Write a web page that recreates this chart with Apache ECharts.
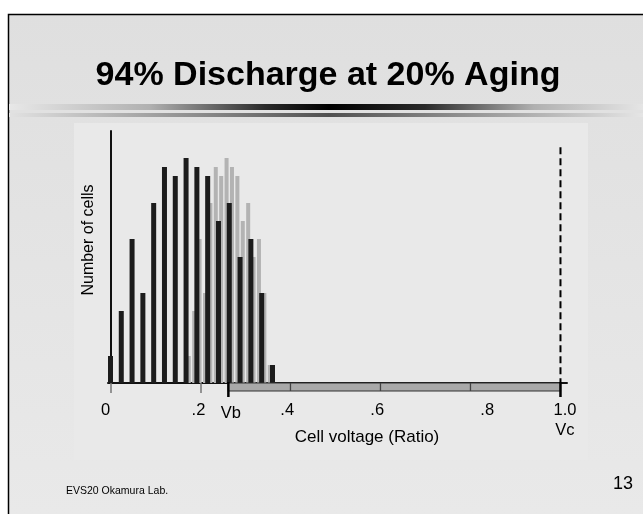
<!DOCTYPE html>
<html><head><meta charset="utf-8">
<script src="https://cdn.jsdelivr.net/npm/echarts@6/dist/echarts.min.js"></script>
<style>html,body{margin:0;padding:0;background:#fff}#c{width:643px;height:514px}</style>
</head><body><div id="c"></div>
<script>
// ---- texts ----
const titleText = '94% Discharge at 20% Aging';
const yAxisName = 'Number of cells';
const xAxisName = 'Cell voltage (Ratio)';
const footerLeft = 'EVS20 Okamura Lab.';
const pageNumber = '13';

// ---- data ----
// black bars: cell voltage ratio and cell counts
const agedVoltage = [0, 0.024, 0.048, 0.072, 0.096, 0.120, 0.144, 0.168, 0.192, 0.216, 0.240, 0.264, 0.288, 0.312, 0.336, 0.360];
const agedCount   = [3, 8, 16, 10, 20, 24, 23, 25, 24, 23, 18, 20, 14, 16, 10, 2];
// grey bars
const refVoltage  = [0.174, 0.186, 0.198, 0.210, 0.222, 0.234, 0.246, 0.258, 0.270, 0.282, 0.294, 0.306, 0.318, 0.330, 0.342, 0.354];
const refCount    = [3, 8, 16, 10, 20, 24, 23, 25, 24, 23, 18, 20, 14, 16, 10, 2];
// voltage range band Vb..Vc
const VB = 0.262;
const VC = 1.0;
const bandDividers = [0.4, 0.6, 0.8];
const vcLineTop = 26.2;
// tick labels
const xTickValues = [0, 0.2, VB, 0.4, 0.6, 0.8, VC];
const xTickLabels = ['0', '.2', 'Vb', '.4', '.6', '.8', '1.0\nVc'];
const xLabelShift = [-5, -2, 2.4, -3.3, -3.3, 16.7, 4.5];
const xMinorTicks = [0, 0.2];

const rich = {};
xTickLabels.forEach((t, i) => {
  const s = xLabelShift[i];
  rich['r' + i] = {
    fontSize: 16.5, fontFamily: 'Liberation Sans, Arial, sans-serif', color: '#000',
    lineHeight: 20,
    padding: [t === 'Vb' ? 6 : 0, s < 0 ? -2 * s : 0, 0, s > 0 ? 2 * s : 0]
  };
});

const chart = echarts.init(document.getElementById('c'), null, {renderer: 'canvas'});
const font = 'Liberation Sans, Arial, sans-serif';

const option = {
  animation: false,
  textStyle: {fontFamily: font},
  grid: {left: 108, top: 131, width: 459, height: 252, containLabel: false},
  xAxis: [{
    type: 'value', min: -0.0055, max: 1.0145,
    axisLine: {show: true, lineStyle: {color: '#111', width: 2}},
    axisTick: {show: true, customValues: xMinorTicks, length: 10, lineStyle: {color: '#777', width: 1.5}},
    splitLine: {show: false},
    axisLabel: {
      show: true, customValues: xTickValues, margin: 17,
      formatter: function (v) {
        let best = 0, bd = 1e9;
        xTickValues.forEach((tv, i) => { const d = Math.abs(tv - v); if (d < bd) { bd = d; best = i; } });
        return xTickLabels[best].split('\n').map(p => '{r' + best + '|' + p + '}').join('\n');
      },
      rich: rich
    }
  }, {
    type: 'value', min: -0.0055, max: 1.0145, show: false
  }],
  yAxis: {
    type: 'value', min: 0, max: 28,
    axisLine: {show: true, onZero: true, lineStyle: {color: '#111', width: 2}},
    axisTick: {show: false}, axisLabel: {show: false}, splitLine: {show: false}
  },
  graphic: [
    {type: 'rect', z: -100, silent: true, shape: {x: 0, y: 0, width: 643, height: 514}, style: {fill: '#fff'}},
    {type: 'rect', z: -99, silent: true, shape: {x: 8.5, y: 14.5, width: 700, height: 600},
      style: {fill: new echarts.graphic.LinearGradient(0, 0, 0, 1, [{offset: 0, color: '#dfdfdf'}, {offset: 1, color: '#ebebeb'}]), stroke: '#000', lineWidth: 1.5}},
    {type: 'rect', z: -98, silent: true, shape: {x: 9, y: 104, width: 640, height: 6},
      style: {fill: new echarts.graphic.LinearGradient(0, 0, 1, 0, [{offset: 0, color: '#e8e8e8'}, {offset: 0.22, color: '#b0b0b0'}, {offset: 0.4, color: '#2a2a2a'}, {offset: 0.5, color: '#000'}, {offset: 0.65, color: '#2a2a2a'}, {offset: 0.82, color: '#b0b0b0'}, {offset: 1, color: '#e8e8e8'}])}},
    {type: 'rect', z: -98, silent: true, shape: {x: 9, y: 113, width: 640, height: 4},
      style: {fill: new echarts.graphic.LinearGradient(0, 0, 1, 0, [{offset: 0, color: '#e2e2e2'}, {offset: 0.5, color: '#505050'}, {offset: 1, color: '#e8e8e8'}])}},
    {type: 'rect', z: -97, silent: true, shape: {x: 74, y: 123, width: 514, height: 337}, style: {fill: '#e9e9e9'}},
    {type: 'text', z: 10, x: 328, y: 76, style: {text: titleText, font: 'bold 34px ' + font, fill: '#000', align: 'center', verticalAlign: 'middle', textAlign: 'center', textVerticalAlign: 'middle'}},
    {type: 'text', z: 10, x: 89, y: 240, rotation: Math.PI / 2, style: {text: yAxisName, font: '16px ' + font, fill: '#000', align: 'center', verticalAlign: 'middle', textAlign: 'center', textVerticalAlign: 'middle'}},
    {type: 'text', z: 10, x: 367, y: 437, style: {text: xAxisName, font: '17px ' + font, fill: '#000', align: 'center', verticalAlign: 'middle', textAlign: 'center', textVerticalAlign: 'middle'}},
    {type: 'text', z: 10, x: 66, y: 491, style: {text: footerLeft, font: '10.5px ' + font, fill: '#000', align: 'left', verticalAlign: 'middle', textAlign: 'left', textVerticalAlign: 'middle'}},
    {type: 'text', z: 10, x: 633, y: 484, style: {text: pageNumber, font: '18px ' + font, fill: '#000', align: 'right', verticalAlign: 'middle', textAlign: 'right', textVerticalAlign: 'middle'}}
  ],
  series: [
    {
      type: 'bar', xAxisIndex: 1, barWidth: 4, z: 2,
      itemStyle: {color: '#b3b3b3'},
      data: refVoltage.map((v, i) => [v, refCount[i]])
    },
    {
      type: 'bar', xAxisIndex: 0, barWidth: 5, z: 3,
      itemStyle: {color: '#1c1c1c'},
      data: agedVoltage.map((v, i) => [v, agedCount[i]])
    },
    {
      type: 'custom', xAxisIndex: 0, z: 4, clip: false,
      data: [[VB, VC]],
      renderItem: function (params, api) {
        const x0 = api.value(0), x1 = api.value(1);
        const p0 = api.coord([x0, 0]), p1 = api.coord([x1, 0]);
        const y = p0[1];
        const ch = [{type: 'rect', shape: {x: p0[0], y: y, width: p1[0] - p0[0], height: 8},
          style: {fill: '#a9a9a9', stroke: '#333', lineWidth: 1.2}}];
        bandDividers.forEach(d => {
          const px = api.coord([d, 0])[0];
          ch.push({type: 'line', shape: {x1: px, y1: y, x2: px, y2: y + 8}, style: {stroke: '#444', lineWidth: 1.3}});
        });
        [x0, x1].forEach(v => {
          const px = api.coord([v, 0])[0];
          ch.push({type: 'line', shape: {x1: px, y1: y - 1, x2: px, y2: y + 14}, style: {stroke: '#000', lineWidth: 2.5}});
        });
        const top = api.coord([x1, vcLineTop]);
        ch.push({type: 'line', shape: {x1: top[0], y1: top[1], x2: top[0], y2: y}, style: {stroke: '#000', lineWidth: 2, lineDash: [7, 4]}});
        return {type: 'group', children: ch};
      }
    }
  ]
};
chart.setOption(option);
</script>
</body></html>
